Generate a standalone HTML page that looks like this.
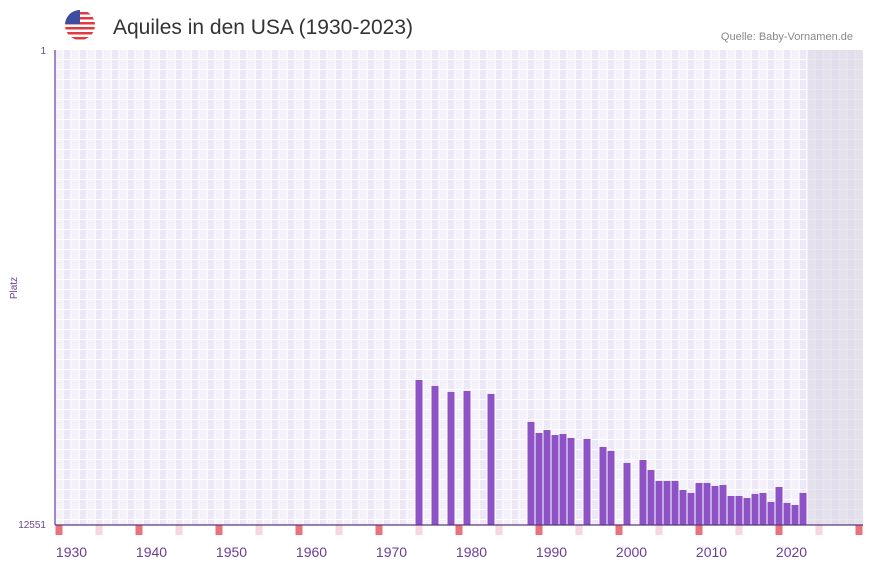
<!DOCTYPE html>
<html><head><meta charset="utf-8"><style>
body{margin:0;background:#fff;font-family:"Liberation Sans",sans-serif}
svg{display:block}
</style></head><body>
<svg id="chart" width="873" height="567">
<defs>
<pattern id="grid" x="55.5" y="50" width="16" height="10" patternUnits="userSpaceOnUse">
<rect x="0" y="0" width="8" height="10" fill="#f4f1fb"/>
<rect x="8" y="0" width="8" height="10" fill="#ede8f8"/>
<rect x="7" y="0" width="1.2" height="10" fill="#fff"/>
<rect x="15" y="0" width="1.2" height="10" fill="#fff"/>
<rect x="0" y="9" width="16" height="1.2" fill="#fff"/>
</pattern>
<clipPath id="fc"><circle cx="80" cy="25" r="15"/></clipPath>
</defs>
<g clip-path="url(#fc)">
<rect x="65" y="10" width="30" height="30" fill="#fff"/>
<rect x="65" y="12" width="30" height="2.5" fill="#e0393e"/>
<rect x="65" y="17" width="30" height="2.5" fill="#e0393e"/>
<rect x="65" y="22" width="30" height="2.5" fill="#e0393e"/>
<rect x="65" y="27" width="30" height="2.5" fill="#e0393e"/>
<rect x="65" y="32" width="30" height="2.5" fill="#e0393e"/>
<rect x="65" y="37" width="30" height="2.5" fill="#e0393e"/>
<rect x="65" y="10" width="15" height="14" fill="#3d4ea0"/>
</g>
<text x="113" y="34" font-size="21" fill="#333">Aquiles in den USA (1930-2023)</text>
<text x="853" y="40" font-size="11" fill="#888" text-anchor="end">Quelle: Baby-Vornamen.de</text>
<rect x="55.5" y="50" width="807.5" height="475" fill="url(#grid)"/>
<rect x="807.5" y="50" width="55.5" height="475" fill="#d8d3e0" opacity="0.55"/>
<g id="bars"></g>
<g id="strip"></g>
<line x1="55" y1="50" x2="55" y2="525" stroke="#6a3d9a" stroke-width="1.2"/>
<line x1="55" y1="525" x2="863" y2="525" stroke="#5a3a7a" stroke-width="1.2"/>
<text x="46" y="54" font-size="10" fill="#6a4a8a" text-anchor="end">1</text>
<text x="46" y="528" font-size="10" fill="#6a4a8a" text-anchor="end">12551</text>
<text transform="translate(17,288) rotate(-90)" font-size="10" fill="#6a3d9a" text-anchor="middle">Platz</text>
<g id="xlabels"></g>
</svg>
<script>
const years=[1973,1975,1977,1979,1982,1987,1988,1989,1990,1991,1992,1994,1996,1997,1999,2001,2002,2003,2004,2005,2006,2007,2008,2009,2010,2011,2012,2013,2014,2015,2016,2017,2018,2019,2020,2021];
const ranks=[8720,8878,9036,9010,9089,9829,10120,10041,10173,10147,10252,10278,10489,10595,10912,10833,11097,11388,11388,11388,11626,11705,11441,11441,11520,11494,11785,11785,11837,11731,11705,11943,11547,11969,12022,11705];
const xTicks=[1930,1940,1950,1960,1970,1980,1990,2000,2010,2020];
const NS="http://www.w3.org/2000/svg";
const X0=55.5,YEAR0=1928,SLOT=8,PTOP=50,PBOT=525,MINR=1,MAXR=12551;
function xs(y){return X0+(y-YEAR0)*SLOT;}
function ys(r){return PTOP+(r-MINR)/(MAXR-MINR)*(PBOT-PTOP);}
const bars=document.getElementById('bars');
years.forEach((yr,i)=>{
 const r=document.createElementNS(NS,'rect');
 const yy=ys(ranks[i]);
 r.setAttribute('x',xs(yr));r.setAttribute('y',yy);
 r.setAttribute('width',7);r.setAttribute('height',PBOT-yy);
 r.setAttribute('fill','#8c52c6');
 
 
 bars.appendChild(r);
});
const strip=document.getElementById('strip');
for(let yr=1928;yr<=2028;yr+=5){
 const r=document.createElementNS(NS,'rect');
 r.setAttribute('x',xs(yr));r.setAttribute('y',525);
 r.setAttribute('width',7);r.setAttribute('height',10);
 r.setAttribute('fill',(yr-1928)%10===0?'#e8737a':'#f6d6df');
 
 
 strip.appendChild(r);
}
const xl=document.getElementById('xlabels');
xTicks.forEach(t=>{
 const tx=document.createElementNS(NS,'text');
 tx.setAttribute('x',xs(t));tx.setAttribute('y',557);
 tx.setAttribute('font-size','14');tx.setAttribute('fill','#6a3d9a');
 tx.setAttribute('text-anchor','middle');
 tx.textContent=t;
 
 
 xl.appendChild(tx);
});
</script>
</body></html>
